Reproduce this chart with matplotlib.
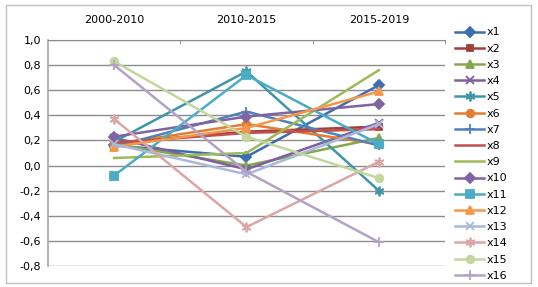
import matplotlib.pyplot as plt
from matplotlib.ticker import FixedLocator, FuncFormatter

# periods on the category axis
periods = ["2000-2010", "2010-2015", "2015-2019"]

x1 = [0.16, 0.07, 0.64]
x2 = [0.18, 0.27, 0.31]
x3 = [0.17, 0.00, 0.22]
x4 = [0.22, -0.03, 0.34]
x5 = [0.19, 0.75, -0.20]
x6 = [0.17, 0.33, 0.17]
x7 = [0.15, 0.43, 0.16]
x8 = [0.18, 0.26, 0.29]
x9 = [0.06, 0.10, 0.76]
x10 = [0.23, 0.39, 0.49]
x11 = [-0.08, 0.72, 0.17]
x12 = [0.15, 0.30, 0.59]
x13 = [0.17, -0.07, 0.33]
x14 = [0.37, -0.49, 0.03]
x15 = [0.83, 0.23, -0.10]
x16 = [0.80, -0.05, -0.61]

series = [x1, x2, x3, x4, x5, x6, x7, x8, x9, x10, x11, x12, x13, x14, x15, x16]
names = ["x%d" % (i + 1) for i in range(len(series))]
colors = ["#3E6DB0", "#A0403D", "#86A84C", "#7E5FA0", "#3E96A8", "#E07F31",
          "#4F81BD", "#C0504D", "#9BBB59", "#8064A2", "#4BACC6", "#F79646",
          "#A9B9DB", "#DCA6A5", "#C3D69B", "#B3A2C7"]
asterisk = (6, 2, 0)
markers = ["D", "s", "^", "x", asterisk, "o", "+", "None", "None", "D", "s", "^",
           "x", asterisk, "o", "+"]
msizes = [5, 5, 5.5, 6, 7, 5.5, 7, 0, 0, 5, 5.5, 5.5, 6, 7, 5.5, 7]

fig = plt.figure(figsize=(5.38, 2.87), dpi=100)
ax = fig.add_axes([48 / 538, 1 - 266 / 287, (445 - 48) / 538, (266 - 40) / 287])

xs = range(len(periods))
for s, n, c, m, ms in zip(series, names, colors, markers, msizes):
    ax.plot(xs, s, color=c, lw=1.8, marker=m, markersize=ms,
            markeredgewidth=1.3, label=n)

ax.set_xlim(-0.5, 2.5)
ax.set_ylim(-0.8, 1.0)
ax.yaxis.set_major_locator(FixedLocator([-0.8, -0.6, -0.4, -0.2, 0, 0.2, 0.4, 0.6, 0.8, 1.0]))
ax.yaxis.set_major_formatter(FuncFormatter(lambda v, p: ("%.1f" % v).replace(".", ",")))
ax.grid(axis="y", color="#8C8C8C", lw=1)
ax.set_axisbelow(True)

ax.xaxis.tick_top()
ax.set_xticks(list(xs))
ax.set_xticklabels(periods)
ax.set_xticks([0.5, 1.5, 2.5], minor=True)
ax.tick_params(axis="x", which="major", length=0, pad=11, labelsize=8, colors="black")
ax.tick_params(axis="x", which="minor", length=3, direction="in", color="#8C8C8C")
ax.tick_params(axis="y", length=0, labelsize=8, pad=5)

for side in ["right", "bottom"]:
    ax.spines[side].set_visible(False)
ax.spines["left"].set_color("#A6A6A6")
ax.spines["top"].set_color("#8C8C8C")
ax.spines["left"].set_linewidth(1.2)

leg = fig.legend(loc="upper left", bbox_to_anchor=(451 / 538, 1 - 23 / 287),
                 frameon=False, fontsize=8, handlelength=2.6, handletextpad=0.2,
                 labelspacing=0.56, borderaxespad=0)

# outer chart border
fig.patches.append(plt.Rectangle((6 / 538, 1 - 283 / 287), 525 / 538, 278 / 287,
                                 transform=fig.transFigure, fill=False,
                                 edgecolor="#BFBFBF", lw=1))

fig.savefig("out.png", dpi=100)
